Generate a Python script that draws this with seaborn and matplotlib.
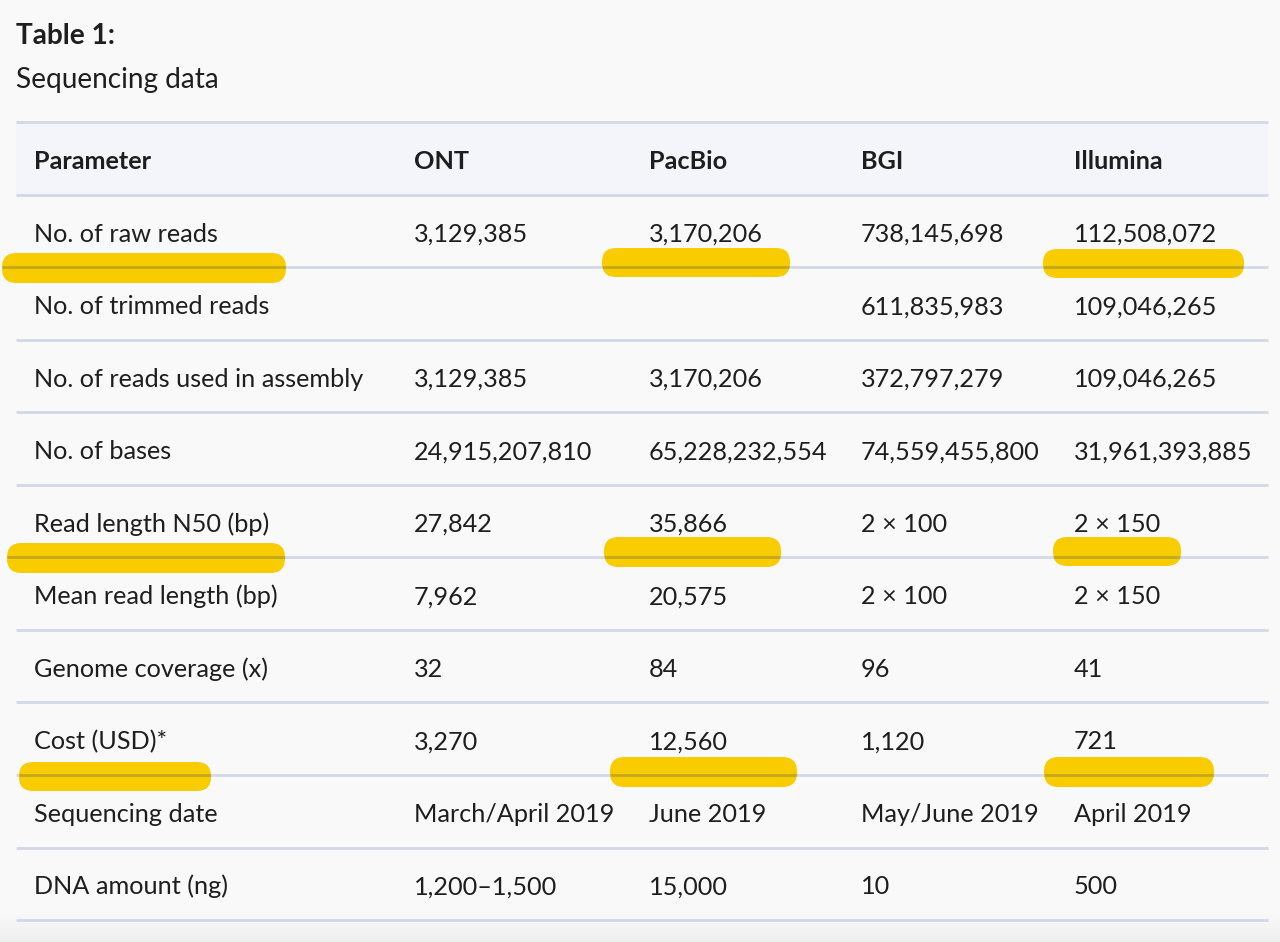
import matplotlib
matplotlib.use("Agg")
import matplotlib.pyplot as plt
from matplotlib.patches import FancyBboxPatch, Rectangle
import seaborn as sns
import numpy as np

# ---------------- data ----------------
title = "Table 1:"
subtitle = "Sequencing data"
columns = ["Parameter", "ONT", "PacBio", "BGI", "Illumina"]
parameters = [
    "No. of raw reads",
    "No. of trimmed reads",
    "No. of reads used in assembly",
    "No. of bases",
    "Read length N50 (bp)",
    "Mean read length (bp)",
    "Genome coverage (x)",
    "Cost (USD)*",
    "Sequencing date",
    "DNA amount (ng)",
]
ont = ["3,129,385", "", "3,129,385", "24,915,207,810", "27,842", "7,962",
       "32", "3,270", "March/April 2019", "1,200\u20131,500"]
pacbio = ["3,170,206", "", "3,170,206", "65,228,232,554", "35,866", "20,575",
          "84", "12,560", "June 2019", "15,000"]
bgi = ["738,145,698", "611,835,983", "372,797,279", "74,559,455,800",
       "2 \u00d7 100", "2 \u00d7 100", "96", "1,120", "May/June 2019", "10"]
illumina = ["112,508,072", "109,046,265", "109,046,265", "31,961,393,885",
            "2 \u00d7 150", "2 \u00d7 150", "41", "721", "April 2019", "500"]
# highlighted rows (index into parameters) and columns (index into columns)
highlight_rows = [0, 4, 7]
highlight_cols = [0, 2, 4]

# ---------------- style / layout ----------------
sns.set_theme(style="white")
plt.rcParams["font.family"] = ["Lato", "DejaVu Sans"]

W, H = 1280, 942
BG = "#f9f9f9"
HEAD_BG = "#f3f5fa"
LINE = "#d3d8e8"
TXT = "#1e1e1e"
YEL = "#f9cc00"

fig = plt.figure(figsize=(W / 100, H / 100), dpi=100, facecolor=BG)
ax = fig.add_axes([0, 0, 1, 1])
ax.set_xlim(0, W)
ax.set_ylim(H, 0)
ax.axis("off")
ax.set_facecolor(BG)

# subtle bottom shadow
grad = np.linspace(0, 1, 60).reshape(-1, 1)
ax.imshow(grad, extent=(0, W, H, H - 30), aspect="auto",
          cmap=matplotlib.colors.LinearSegmentedColormap.from_list(
              "sh", [BG, "#efefef"]), zorder=0)

px = 100 / 72.0  # px -> pt factor
body_fs = 25.2 / px
title_fs = 28.0 / px

ax.text(16, 44, title, fontsize=title_fs, fontweight="bold", color=TXT,
        va="baseline", ha="left")
ax.text(16, 88, subtitle, fontsize=title_fs, color=TXT, va="baseline", ha="left")

table_x0, table_x1 = 16, 1268
top = 122
row_h = 72.55
col_x = [34, 414, 649, 861, 1074]

# header band
ax.add_patch(Rectangle((table_x0, top), table_x1 - table_x0, row_h,
                       facecolor=HEAD_BG, edgecolor="none", zorder=1))

n_rows = len(parameters) + 1
line_ys = [top + i * row_h for i in range(n_rows + 1)]
ax.hlines(line_ys, table_x0, table_x1, colors=LINE, linewidth=2, zorder=2)

for j, c in enumerate(columns):
    ax.text(col_x[j], top + 47, c, fontsize=body_fs, fontweight="bold",
            color=TXT, va="baseline", ha="left", zorder=5)

data_cols = [parameters, ont, pacbio, bgi, illumina]
for i in range(len(parameters)):
    yb = top + (i + 1) * row_h + 47
    for j, col in enumerate(data_cols):
        ax.text(col_x[j], yb, col[i], fontsize=body_fs, color=TXT,
                va="baseline", ha="left", zorder=5)

# highlight strokes (hand-drawn look: each slightly different)
stroke_geom = {
    (0, 0): (2, 253, 284, 30), (0, 2): (602, 248, 188, 29), (0, 4): (1043, 249, 201, 29),
    (4, 0): (7, 543, 278, 30), (4, 2): (604, 537, 177, 30), (4, 4): (1053, 537, 128, 29),
    (7, 0): (19, 762, 192, 29), (7, 2): (610, 757, 187, 30), (7, 4): (1044, 757, 170, 30),
}
for r in highlight_rows:
    for c in highlight_cols:
        x, y, w, h = stroke_geom[(r, c)]
        p = FancyBboxPatch((x, y), w, h,
                           boxstyle=f"round,pad=0,rounding_size={h/2 - 0.5}",
                           facecolor=YEL, edgecolor="none", zorder=3)
        ax.add_patch(p)
        # the row rule shows through the marker (multiply look)
        ly = top + (r + 2) * row_h
        seg = ax.hlines([ly], x, x + w, colors="#c2a81c", linewidth=2, zorder=4)
        seg.set_clip_path(p)

fig.savefig("out.png", dpi=100, facecolor=BG)
